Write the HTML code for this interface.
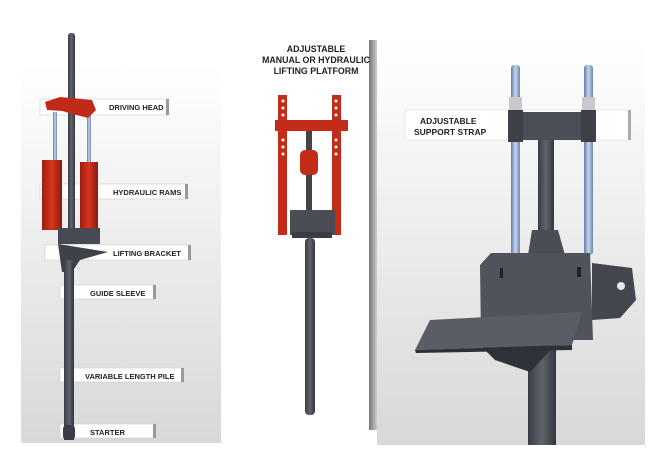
<!DOCTYPE html>
<html><head><style>body{margin:0;background:#fff}svg{display:block}text{font-family:"Liberation Sans",sans-serif;font-weight:bold;fill:#222}</style></head><body>
<svg width="660" height="455" viewBox="0 0 660 455">
<defs>
<linearGradient id="bg" x1="0" y1="0" x2="0" y2="1"><stop offset="0" stop-color="#fff"/><stop offset="0.3" stop-color="#f4f4f4"/><stop offset="1" stop-color="#d8d8d8"/></linearGradient>
<linearGradient id="rod" x1="0" x2="1"><stop offset="0" stop-color="#3a3d44"/><stop offset="0.5" stop-color="#60646c"/><stop offset="1" stop-color="#33363c"/></linearGradient>
<linearGradient id="red" x1="0" x2="1"><stop offset="0" stop-color="#9c1e10"/><stop offset="0.5" stop-color="#d8361d"/><stop offset="1" stop-color="#8a1a0e"/></linearGradient>
<linearGradient id="blu" x1="0" x2="1"><stop offset="0" stop-color="#5a7fb0"/><stop offset="0.5" stop-color="#c8d4e6"/><stop offset="1" stop-color="#6a87b4"/></linearGradient>
<linearGradient id="sh" x1="0" x2="1"><stop offset="0" stop-color="#777"/><stop offset="1" stop-color="#ccc"/></linearGradient>
</defs>
<rect x="21" y="63" width="200" height="380" fill="url(#bg)"/>
<rect x="377" y="40" width="268" height="405" fill="url(#bg)"/>
<rect x="258" y="40" width="118" height="390" fill="#fff"/>
<rect x="369" y="40" width="8" height="390" fill="url(#sh)"/>
<g fill="#fff" stroke="#ccc" stroke-width="0.6">
<rect x="40" y="99" width="128" height="16"/><rect x="40" y="184" width="147" height="15"/><rect x="45" y="245" width="145" height="15"/>
<rect x="60" y="285" width="95" height="14"/><rect x="60" y="368" width="123" height="14"/><rect x="60" y="424" width="95" height="14"/>
</g>
<g fill="#999"><rect x="166" y="99" width="3" height="16"/><rect x="185" y="184" width="3" height="15"/><rect x="188" y="245" width="3" height="15"/><rect x="153" y="285" width="3" height="14"/><rect x="181" y="368" width="3" height="14"/><rect x="153" y="424" width="3" height="14"/></g>
<rect x="68" y="33" width="7" height="205" rx="3" fill="url(#rod)"/>
<rect x="53" y="112" width="4" height="50" fill="url(#blu)"/>
<rect x="87" y="115" width="4" height="48" fill="url(#blu)"/>
<rect x="42" y="160" width="20" height="70" fill="url(#red)"/>
<rect x="80" y="162" width="18" height="68" fill="url(#red)"/>
<polygon points="45,102 60,97 92,100 96,110 88,118 62,111 47,110" fill="#c02a18"/>
<rect x="58" y="228" width="42" height="16" fill="#474a52"/>
<polygon points="58,244 108,252 80,260 72,272 62,272" fill="#3e4148"/>
<rect x="64" y="260" width="10" height="180" fill="url(#rod)"/>
<rect x="63" y="425" width="12" height="15" rx="4" fill="#3a3d44"/>
<g font-size="7.5">
<text x="109" y="110">DRIVING HEAD</text><text x="113" y="195">HYDRAULIC RAMS</text><text x="113" y="256">LIFTING BRACKET</text>
<text x="90" y="296">GUIDE SLEEVE</text><text x="85" y="379">VARIABLE LENGTH PILE</text><text x="90" y="435">STARTER</text>
</g>
<g font-size="8.8" text-anchor="middle"><text x="316" y="52">ADJUSTABLE</text><text x="316" y="63">MANUAL OR HYDRAULIC</text><text x="316" y="74">LIFTING PLATFORM</text></g>
<rect x="278" y="95" width="9" height="140" fill="#c42c1a"/><rect x="332" y="95" width="9" height="140" fill="#c42c1a"/>
<rect x="275" y="120" width="73" height="11" fill="#c42c1a"/>
<g fill="#fff"><circle cx="283" cy="101" r="1.5"/><circle cx="283" cy="108" r="1.5"/><circle cx="283" cy="115" r="1.5"/><circle cx="283" cy="140" r="1.5"/><circle cx="283" cy="147" r="1.5"/><circle cx="283" cy="154" r="1.5"/><circle cx="336" cy="101" r="1.5"/><circle cx="336" cy="108" r="1.5"/><circle cx="336" cy="115" r="1.5"/><circle cx="336" cy="140" r="1.5"/><circle cx="336" cy="147" r="1.5"/><circle cx="336" cy="154" r="1.5"/></g>
<rect x="306" y="131" width="6" height="80" fill="#444"/>
<rect x="300" y="150" width="18" height="25" rx="5" fill="#c42c1a"/>
<rect x="290" y="210" width="45" height="25" fill="#4a4d54"/>
<rect x="292" y="232" width="40" height="6" fill="#3a3d44"/>
<rect x="305" y="238" width="10" height="177" rx="4" fill="url(#rod)"/>
<rect x="405" y="110" width="225" height="30" fill="#fff" stroke="#ddd" stroke-width="0.6"/>
<rect x="628" y="110" width="3" height="30" fill="#aaa"/>
<g font-size="8.5"><text x="420" y="124">ADJUSTABLE</text><text x="414" y="135">SUPPORT STRAP</text></g>
<rect x="538" y="135" width="16" height="120" fill="url(#rod)"/>
<polygon points="532,230 558,230 565,255 528,255" fill="#4a4d54"/>
<rect x="511" y="65" width="9" height="190" rx="3" fill="url(#blu)"/>
<rect x="584" y="65" width="9" height="190" rx="3" fill="url(#blu)"/>
<rect x="509" y="97" width="13" height="14" fill="#c9c9cc"/><rect x="582" y="97" width="13" height="14" fill="#c9c9cc"/>
<rect x="520" y="112" width="62" height="28" fill="#4b4e56"/>
<rect x="508" y="110" width="15" height="32" fill="#3d4047"/><rect x="581" y="110" width="15" height="32" fill="#3d4047"/>
<polygon points="592,263 632,268 636,300 620,318 592,320" fill="#43464d"/>
<circle cx="621" cy="286" r="4" fill="#e8e8e8"/>
<polygon points="491,253 590,253 593,340 481,340 480,265" fill="#50535b"/>
<rect x="500" y="268" width="3" height="10" fill="#222"/><rect x="577" y="267" width="4" height="10" fill="#222"/>
<rect x="528" y="330" width="28" height="115" fill="url(#rod)"/>
<polygon points="480,345 560,340 530,372 495,360" fill="#2f3238"/>
<polygon points="430,320 582,312 572,345 415,350" fill="#5a5d65"/>
<polygon points="415,350 572,345 572,350 416,353" fill="#2e3035"/>
</svg>
</body></html>
